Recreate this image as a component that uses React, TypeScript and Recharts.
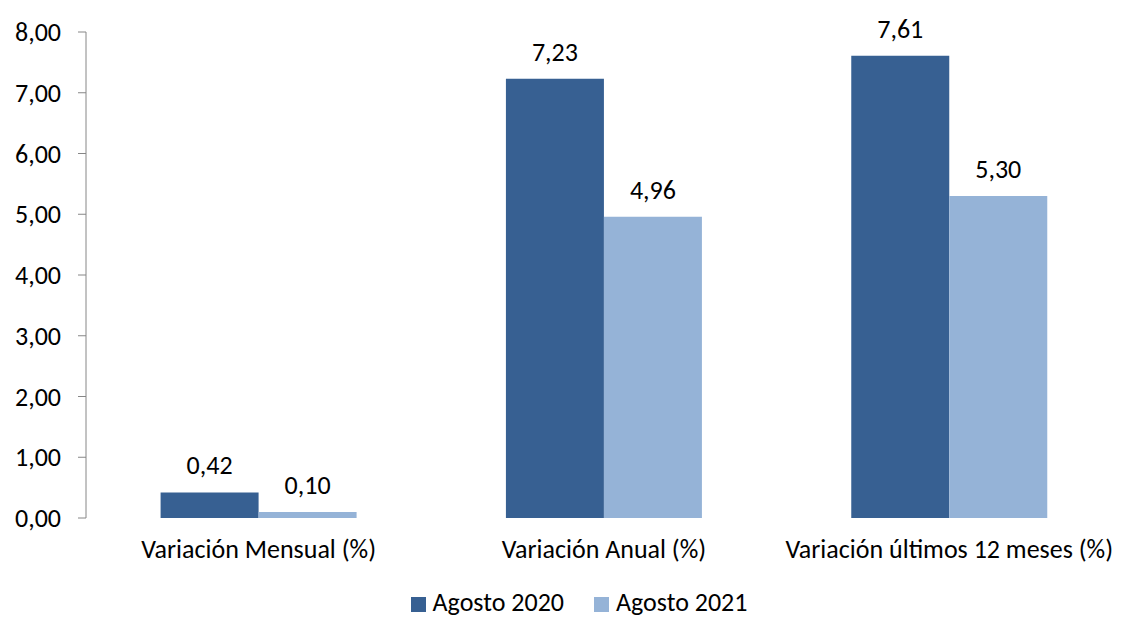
import { Bar, BarChart, LabelList, Legend, XAxis, YAxis } from "recharts"

const categories = ["Variación Mensual (%)", "Variación  Anual (%)", "Variación últimos 12 meses (%)"]
const agosto2020 = [0.42, 7.23, 7.61]
const agosto2021 = [0.1, 4.96, 5.3]
const yTicks = [0, 1, 2, 3, 4, 5, 6, 7, 8]
const edgeTicks = [0, 1, 2, 3]

const data = categories.map((name, i) => ({
  name,
  idx: i + 0.5,
  a2020: agosto2020[i],
  a2021: agosto2021[i],
}))

const DARK = "#376092"
const LIGHT = "#95b3d7"
const AXIS = "#868686"
const FONT = "Carlito, Calibri, Lato, sans-serif"
const FS = 26

const fmt = (v: number) => v.toFixed(2).replace(".", ",")

const legendItems = [
  { label: "Agosto 2020", color: DARK },
  { label: "Agosto 2021", color: LIGHT },
]

function LegendContent() {
  return (
    <div style={{ display: "flex", justifyContent: "center", gap: 30, fontSize: FS, lineHeight: "28px", color: "#000" }}>
      {legendItems.map((it) => (
        <div key={it.label} style={{ display: "flex", alignItems: "center", gap: 7 }}>
          <span style={{ display: "inline-block", width: 15, height: 15, background: it.color, marginTop: 4 }} />
          <span>{it.label}</span>
        </div>
      ))}
    </div>
  )
}

export default function App() {
  return (
    <div style={{ position: "absolute", left: 0, top: 0, fontFamily: FONT, fontSize: FS }}>
      <BarChart
        width={1122}
        height={619}
        data={data}
        margin={{ top: 32, right: 0, bottom: 0, left: 0 }}
        barCategoryGap="21.6%"
        barGap={0}
      >
        <XAxis
          xAxisId="edges"
          type="number"
          dataKey="idx"
          domain={[0, 3]}
          ticks={edgeTicks}
          allowDataOverflow
          tick={false}
          tickSize={7}
          height={0}
          stroke={AXIS}
        />
        <XAxis
          xAxisId="cat"
          dataKey="name"
          axisLine={false}
          tickLine={false}
          tickSize={0}
          tickMargin={22}
          height={70}
          interval={0}
          fontSize={FS}
          tick={{ fontSize: FS, fill: "#000" }}
        />
        <YAxis
          width={86}
          domain={[0, 8]}
          ticks={yTicks}
          tickFormatter={fmt}
          tickSize={8}
          tickMargin={17}
          stroke={AXIS}
          fontSize={FS}
          tick={{ fontSize: FS, fill: "#000" }}
        />
        <Legend
          verticalAlign="bottom"
          height={31}
          wrapperStyle={{ left: 18 }}
          content={<LegendContent />}
        />
        <Bar xAxisId="cat" dataKey="a2020" name="Agosto 2020" fill={DARK} isAnimationActive={false}>
          <LabelList dataKey="a2020" position="top" offset={18} fontSize={FS} fill="#000" formatter={(v: any) => fmt(Number(v))} />
        </Bar>
        <Bar xAxisId="cat" dataKey="a2021" name="Agosto 2021" fill={LIGHT} isAnimationActive={false}>
          <LabelList dataKey="a2021" position="top" offset={18} fontSize={FS} fill="#000" formatter={(v: any) => fmt(Number(v))} />
        </Bar>
      </BarChart>
    </div>
  )
}
